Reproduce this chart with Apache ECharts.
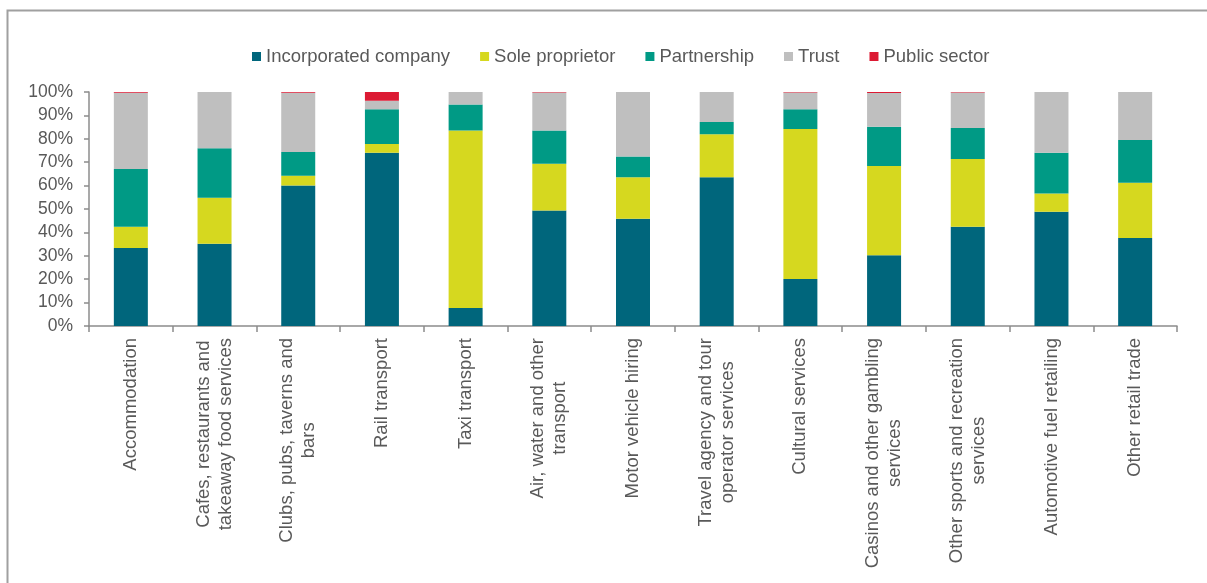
<!DOCTYPE html>
<html>
<head>
<meta charset="utf-8">
<title>Business structure by industry</title>
<script src="https://cdn.jsdelivr.net/npm/echarts@6/dist/echarts.min.js"></script>
<style>
  html, body { margin: 0; padding: 0; background: #ffffff; }
  #chart { width: 1207px; height: 583px; }
</style>
</head>
<body>
<div id="chart"></div>
<script>
// Industries along the x axis (two-line labels use \n)
const categories = [
  'Accommodation',
  'Cafes, restaurants and\ntakeaway food services',
  'Clubs, pubs, taverns and\nbars',
  'Rail transport',
  'Taxi transport',
  'Air, water and other\ntransport',
  'Motor vehicle hiring',
  'Travel agency and tour\noperator services',
  'Cultural services',
  'Casinos and other gambling\nservices',
  'Other sports and recreation\nservices',
  'Automotive fuel retailing',
  'Other retail trade'
];

// Share of businesses by legal structure, percent
const incorporatedCompany = [33.3, 35.1, 60.0, 74.0, 7.7, 49.4, 45.8, 63.6, 20.1, 30.2, 42.4, 48.8, 37.6];
const soleProprietor      = [9.1, 19.7, 4.2, 3.8, 75.9, 19.9, 17.8, 18.3, 64.1, 38.2, 29.0, 7.8, 23.6];
const partnership         = [24.7, 21.2, 10.2, 14.8, 11.1, 14.3, 8.8, 5.3, 8.4, 16.7, 13.2, 17.4, 18.3];
const trust               = [32.6, 24.0, 25.3, 3.7, 5.3, 16.2, 27.6, 12.8, 7.2, 14.5, 15.2, 26.0, 20.5];
const publicSector        = [0.3, 0, 0.3, 3.7, 0, 0.2, 0, 0, 0.2, 0.4, 0.2, 0, 0];

const seriesNames = ['Incorporated company', 'Sole proprietor', 'Partnership', 'Trust', 'Public sector'];
const seriesColors = ['#00667c', '#d6d81f', '#009a85', '#bfbfbf', '#dc1a33'];
const seriesData = [incorporatedCompany, soleProprietor, partnership, trust, publicSector];

const FONT = '"Liberation Sans", Arial, sans-serif';
const TEXT = '#595959';
const AXIS = '#8c8c8c';

const chart = echarts.init(document.getElementById('chart'), null, { renderer: 'canvas' });

chart.setOption({
  animation: false,
  textStyle: { fontFamily: FONT, color: TEXT },
  graphic: [{
    type: 'rect',
    shape: { x: 7.5, y: 10.5, width: 1400, height: 800 },
    style: { fill: 'none', stroke: '#a0a0a0', lineWidth: 2 },
    silent: true
  }],
  legend: {
    top: 42,
    left: 247,
    itemWidth: 9,
    itemHeight: 9,
    itemGap: 30,
    icon: 'rect',
    textStyle: { fontFamily: FONT, fontSize: 18.5, color: TEXT },
    data: seriesNames
  },
  grid: { left: 89, right: 30, top: 92, bottom: 257, containLabel: false },
  xAxis: {
    type: 'category',
    data: categories,
    axisLine: { lineStyle: { color: AXIS, width: 1.5 } },
    axisTick: { show: true, length: 6, lineStyle: { color: AXIS, width: 1.5 } },
    axisLabel: {
      rotate: 90,
      margin: 12,
      interval: 0,
      fontFamily: FONT,
      fontSize: 18.5,
      color: TEXT,
      lineHeight: 22,
      // each line is centred within the label block
      formatter: function (v) {
        return v.split('\n').map(function (s) { return '{c|' + s + '}'; }).join('\n');
      },
      rich: { c: { align: 'center', fontFamily: FONT, fontSize: 18.5, color: TEXT, lineHeight: 22 } }
    }
  },
  yAxis: {
    type: 'value',
    min: 0,
    max: 100,
    interval: 10,
    axisLine: { show: true, lineStyle: { color: AXIS, width: 1.5 } },
    axisTick: { show: true, length: 5, lineStyle: { color: AXIS, width: 1.5 } },
    splitLine: { show: false },
    axisLabel: { formatter: '{value}%', margin: 16, fontFamily: FONT, fontSize: 17.5, color: TEXT }
  },
  series: seriesNames.map(function (name, i) {
    return {
      name: name,
      type: 'bar',
      stack: 'total',
      barWidth: 34,
      itemStyle: { color: seriesColors[i] },
      data: seriesData[i]
    };
  })
});
</script>
</body>
</html>
